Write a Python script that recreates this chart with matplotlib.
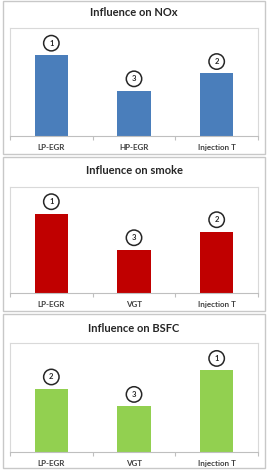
import matplotlib
matplotlib.use("Agg")
import matplotlib.pyplot as plt
from matplotlib.patches import Rectangle

titles = ["Influence on NOx", "Influence on smoke", "Influence on BSFC"]
categories = [["LP-EGR", "HP-EGR", "Injection T"],
              ["LP-EGR", "VGT", "Injection T"],
              ["LP-EGR", "VGT", "Injection T"]]
values_nox = [0.75, 0.42, 0.58]
values_smoke = [0.75, 0.41, 0.58]
values_bsfc = [0.58, 0.42, 0.75]
ranks_nox = ["1", "3", "2"]
ranks_smoke = ["1", "3", "2"]
ranks_bsfc = ["2", "3", "1"]
colors = ["#4A7EBB", "#C00000", "#92D050"]

values = [values_nox, values_smoke, values_bsfc]
ranks = [ranks_nox, ranks_smoke, ranks_bsfc]

W, H = 268, 470
fig = plt.figure(figsize=(W / 100, H / 100), dpi=100)
fig.patch.set_facecolor("white")

def fx(px):
    return px / W

def fy(py):
    return 1 - py / H

# outer panel boxes (pixel coords: top, bottom)
panels = [(1, 154), (157, 311), (314, 468)]
for top, bot in panels:
    fig.add_artist(Rectangle((fx(3), fy(bot)), fx(262), (bot - top) / H,
                             transform=fig.transFigure, fill=False,
                             edgecolor="#C8C8C8", linewidth=1.0))

# axes frames (pixel coords: top, bottom)
frames = [(28, 136), (187, 293), (343, 452)]
title_y = [13, 170, 328]

for i in range(3):
    top, bot = frames[i]
    ax = fig.add_axes([fx(10), fy(bot), fx(248), (bot - top) / H])
    x = list(range(len(categories[i])))
    ax.bar(x, values[i], width=0.4, color=colors[i], zorder=2)
    ax.set_xlim(-0.5, 2.5)
    ax.set_ylim(0, 1)
    ax.set_yticks([])
    ax.set_xticks(x)
    ax.set_xticklabels(categories[i], fontsize=5.8, fontweight="bold",
                       color="#404040", family="Lato")
    ax.tick_params(axis="x", length=0, pad=6)
    # category boundary ticks
    ax.set_xticks([-0.5, 0.5, 1.5, 2.5], minor=True)
    ax.tick_params(axis="x", which="minor", length=3, color="#BFBFBF", width=0.8)
    for s in ["left", "right", "top"]:
        ax.spines[s].set_color("#D9D9D9")
        ax.spines[s].set_linewidth(0.8)
    ax.spines["bottom"].set_color("#BFBFBF")
    ax.spines["bottom"].set_linewidth(0.8)
    for xi, v, r in zip(x, values[i], ranks[i]):
        ax.annotate(r, (xi, v), xytext=(0, 8.5), textcoords="offset points",
                    ha="center", va="center", fontsize=5.5, fontweight="bold",
                    family="Lato", color="#262626",
                    bbox=dict(boxstyle="circle,pad=0.55", fc="white",
                              ec="#262626", lw=1.1))
    fig.text(0.5, fy(title_y[i]), titles[i], ha="center", va="center",
             fontsize=8, fontweight="bold", family="Lato", color="#262626")

fig.savefig("out.png", dpi=100)
